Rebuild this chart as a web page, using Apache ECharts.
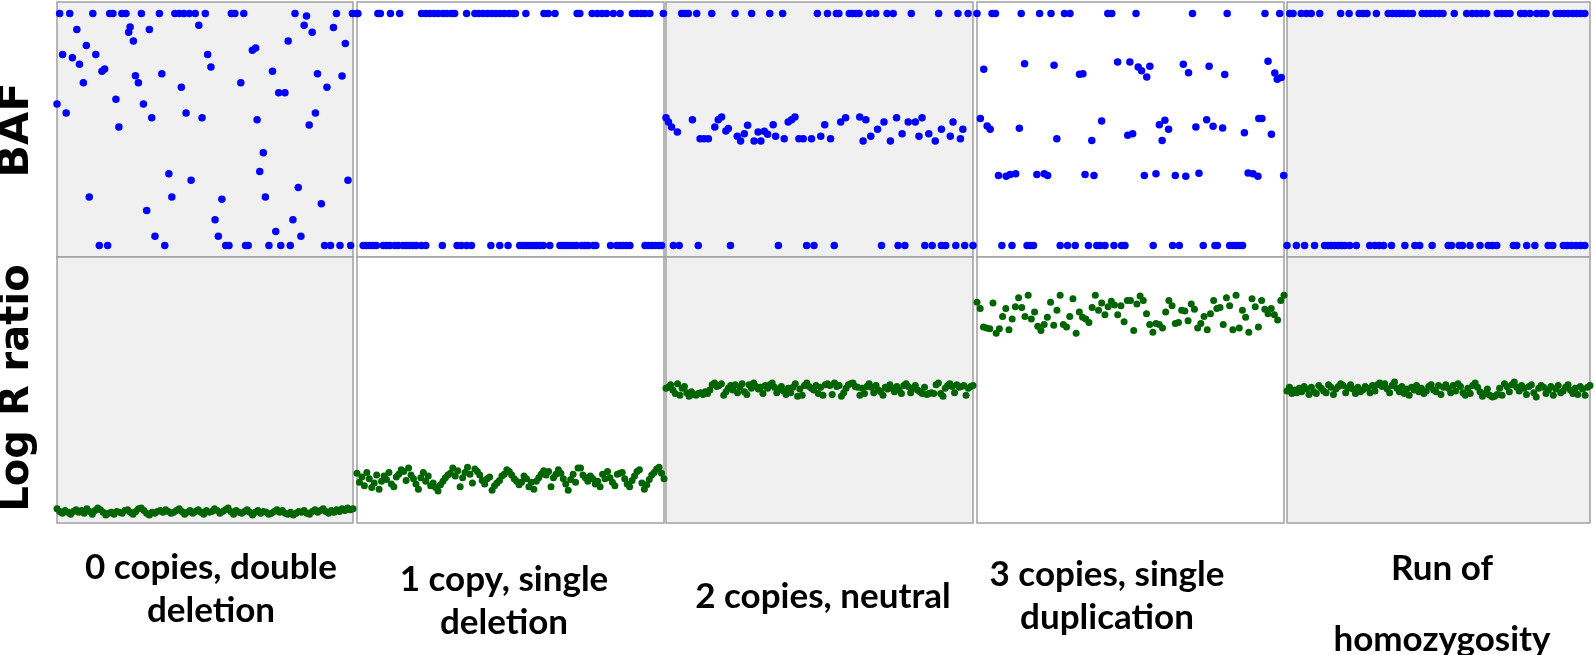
<!DOCTYPE html>
<html>
<head>
<meta charset="utf-8">
<script src="https://cdn.jsdelivr.net/npm/echarts/dist/echarts.min.js"></script>
<style>html,body{margin:0;padding:0;background:#fff}#main{width:1595px;height:655px}</style>
</head>
<body>
<div id="main"></div>
<script>
var chartDom = document.getElementById('main');
var myChart = echarts.init(chartDom);
var option;

//---------------- data ----------------
var panelNames = ['0 copies, double\ndeletion', '1 copy, single\ndeletion', '2 copies, neutral', '3 copies, single\nduplication', 'Run of\nhomozygosity'];
var rowNames = ['BAF', 'Log R ratio'];

// BAF: x position (0-100 across the panel) of the dots lying on 1 and on 0
var baf1Top = [0.9, 4.3, 12.1, 17.8, 18.9, 21.9, 23.3, 28.5, 34.6, 39.8, 41.3, 42.9, 44.7, 46.7, 50.1, 58.9, 60.1, 63.1, 80.4, 94.4, 99.8];
var baf1Bot = [14.3, 17.1, 36.4, 57.0, 58.1, 63.7, 64.6, 71.6, 75.6, 78.8, 90.4, 92.4, 95.6, 99.2];
var baf1Mid = [[84.3, 0.99], [6.7, 0.931], [24.7, 0.942], [24.2, 0.919], [31.2, 0.931], [47.9, 0.95], [83.5, 0.95], [86.2, 0.919], [93.4, 0.94],
  [9.9, 0.862], [25.8, 0.882], [66.0, 0.842], [67.1, 0.852], [78.1, 0.882], [97.4, 0.871], [1.9, 0.823], [5.2, 0.81], [13.1, 0.823], [50.9, 0.823],
  [7.6, 0.781], [52.0, 0.77], [15.2, 0.751], [16.1, 0.761], [26.5, 0.732], [35.4, 0.741], [72.8, 0.751], [88.0, 0.741], [96.3, 0.731],
  [8.9, 0.702], [27.5, 0.702], [42.0, 0.682], [62.1, 0.702], [91.2, 0.682], [74.9, 0.659], [77.0, 0.659], [0, 0.61], [19.9, 0.63], [29.2, 0.61],
  [3.1, 0.571], [43.6, 0.571], [32.0, 0.551], [49.0, 0.551], [67.6, 0.542], [87.3, 0.571], [85.2, 0.519], [20.9, 0.511], [69.7, 0.40], [68.5, 0.319],
  [37.8, 0.309], [45.3, 0.281], [98.3, 0.281], [81.5, 0.25], [10.9, 0.209], [38.8, 0.209], [70.4, 0.209], [55.7, 0.199], [89.3, 0.18], [30.3, 0.151],
  [53.4, 0.111], [79.7, 0.111], [73.9, 0.06], [33.1, 0.04], [54.5, 0.04], [82.4, 0.04]];

var baf2Top = [0, 0.3, 6.8, 7.6, 10.9, 13.9, 21.0, 22.4, 23.7, 25.1, 26.5, 28.0, 29.3, 30.8, 31.8, 35.7, 38.4, 39.7, 41.1, 42.5, 43.9, 45.2, 46.6, 48.0,
  49.5, 50.9, 51.6, 55.0, 60.9, 62.3, 64.5, 71.7, 72.6, 76.6, 78.3, 79.8, 81.3, 83.5, 85.7, 89.7, 91.1, 92.5, 93.8, 95.4, 99.8];
var baf2Bot = [2.0, 3.0, 4.1, 5.2, 6.3, 8.5, 9.6, 10.7, 12.3, 13.4, 15.0, 16.1, 17.2, 18.3, 19.3, 21.0, 22.4, 27.8, 32.6, 34.0, 35.7, 37.3, 43.6, 46.5,
  49.2, 53.0, 54.1, 55.2, 56.3, 57.4, 58.5, 59.6, 60.7, 62.8, 66.1, 67.2, 68.3, 69.3, 70.4, 71.5, 73.2, 74.2, 75.3, 77.0, 77.8, 82.6, 84.6, 85.7,
  86.7, 87.8, 88.9, 93.8, 94.9, 96.0, 97.1, 98.2, 99.2];
var baf2Mid = [];

var baf3Top = [5.1, 6.2, 7.3, 10.0, 14.9, 22.5, 27.9, 33.8, 38.0, 49.3, 52.6, 55.5, 56.3, 59.7, 60.7, 61.8, 62.9, 66.2, 68.3, 72.0, 74.0, 79.9, 88.8, 95.1, 98.4];
var baf3Bot = [2.4, 4.3, 10.5, 21.0, 36.6, 45.8, 48.2, 54.8, 70.2, 75.6, 77.8, 84.3, 86.7, 89.7, 91.1, 94.4, 97.3, 100];
var baf3Mid = [[0, 0.551], [0.8, 0.532], [1.8, 0.511], [3.7, 0.489], [8.6, 0.542], [11.1, 0.46], [12.4, 0.46], [13.8, 0.46], [15.9, 0.511], [17.0, 0.542],
  [18.1, 0.554], [19.5, 0.494], [20.3, 0.504], [23.2, 0.471], [24.3, 0.45], [25.5, 0.482], [26.6, 0.518], [28.7, 0.45], [30.0, 0.489], [30.9, 0.45],
  [32.0, 0.492], [33.1, 0.479], [34.9, 0.521], [35.7, 0.471], [38.5, 0.46], [39.8, 0.532], [40.9, 0.542], [42.0, 0.554], [43.3, 0.46], [44.7, 0.46],
  [47.4, 0.46], [50.4, 0.471], [51.7, 0.521], [53.6, 0.46], [56.9, 0.532], [58.5, 0.551], [63.1, 0.554], [65.1, 0.542], [64.2, 0.45], [66.7, 0.471],
  [68.9, 0.501], [71.0, 0.532], [73.1, 0.45], [75.1, 0.551], [76.9, 0.482], [78.9, 0.532], [81.2, 0.532], [83.4, 0.551], [82.4, 0.471], [85.6, 0.482],
  [87.7, 0.45], [89.7, 0.501], [92.6, 0.471], [93.5, 0.532], [95.9, 0.46], [96.7, 0.501]];

var baf4Top = [0, 4.9, 6.0, 14.4, 20.4, 24.1, 28.5, 30.3, 42.6, 43.9, 51.8, 70.2, 81.5, 93.8, 98.6];
var baf4Bot = [8.1, 11.4, 16.3, 17.3, 18.4, 27.1, 29.5, 32.0, 36.3, 39.0, 40.1, 41.7, 44.6, 47.1, 48.2, 57.4, 63.7, 65.9, 73.7, 77.5, 78.3, 82.3,
  83.4, 84.5, 85.6, 86.5];
var baf4Mid = [[2.2, 0.76], [15.5, 0.784], [25.1, 0.777], [33.4, 0.738], [34.5, 0.741], [45.8, 0.791], [49.8, 0.791], [52.5, 0.77], [53.6, 0.753],
  [55.3, 0.727], [56.3, 0.773], [67.2, 0.781], [68.9, 0.745], [75.6, 0.773], [80.7, 0.737], [94.8, 0.794], [97.0, 0.744], [97.8, 0.717], [99.1, 0.724],
  [1.1, 0.547], [3.3, 0.515], [4.3, 0.501], [13.8, 0.505], [26.0, 0.46], [37.4, 0.453], [40.6, 0.537], [49.1, 0.475], [50.7, 0.482], [59.4, 0.521],
  [61.2, 0.54], [62.4, 0.501], [60.3, 0.453], [71.3, 0.511], [74.8, 0.542], [76.9, 0.514], [80.0, 0.506], [87.1, 0.486], [91.8, 0.547], [92.8, 0.547],
  [95.9, 0.479], [7.0, 0.302], [9.5, 0.298], [10.8, 0.306], [12.6, 0.309], [19.5, 0.306], [21.9, 0.309], [23.0, 0.302], [35.2, 0.306], [38.1, 0.302],
  [54.5, 0.302], [58.3, 0.309], [64.6, 0.302], [68.0, 0.298], [72.3, 0.311], [88.3, 0.312], [89.9, 0.309], [91.5, 0.298], [99.9, 0.302]];

var baf5Top = [0.9, 2.0, 4.7, 6.4, 8.0, 10.8, 17.7, 20.5, 23.8, 25.1, 26.4, 29.5, 33.4, 34.8, 36.1, 37.2, 38.5, 40.0, 41.4, 44.6, 46.0, 47.4, 48.8,
  50.2, 51.5, 55.2, 59.3, 61.1, 62.6, 64.2, 65.9, 69.4, 70.8, 72.2, 73.6, 77.1, 78.5, 80.2, 82.4, 84.0, 85.5, 88.8, 90.1, 91.4, 92.8, 94.3, 95.6,
  96.9, 98.3];
var baf5Bot = [0, 3.1, 5.8, 9.1, 12.4, 13.5, 14.6, 15.7, 16.9, 18.0, 19.1, 20.7, 22.9, 27.3, 29.0, 30.4, 31.9, 34.5, 38.9, 42.2, 43.8, 47.9, 53.2,
  54.3, 56.8, 57.9, 60.4, 63.7, 66.4, 67.8, 69.2, 74.7, 75.8, 79.1, 81.8, 86.2, 87.7, 91.2, 92.5, 93.9, 95.4, 96.9, 98.3];
var baf5Mid = [];

// Log R ratio, one value per probe, in probe order
var lrr1 = [-1.34, -1.37, -1.39, -1.36, -1.38, -1.40, -1.37, -1.35, -1.38, -1.36, -1.39, -1.34, -1.37, -1.40, -1.36, -1.33, -1.35, -1.38, -1.41, -1.39,
  -1.38, -1.40, -1.37, -1.38, -1.39, -1.36, -1.35, -1.38, -1.40, -1.37, -1.34, -1.33, -1.36, -1.39, -1.41, -1.38, -1.39, -1.37, -1.36, -1.38,
  -1.35, -1.37, -1.39, -1.38, -1.36, -1.34, -1.37, -1.40, -1.38, -1.36, -1.39, -1.37, -1.35, -1.38, -1.40, -1.36, -1.38, -1.37, -1.34, -1.36,
  -1.39, -1.37, -1.35, -1.33, -1.37, -1.40, -1.36, -1.38, -1.39, -1.37, -1.35, -1.38, -1.41, -1.38, -1.36, -1.39, -1.37, -1.38, -1.40, -1.39,
  -1.37, -1.35, -1.38, -1.36, -1.39, -1.40, -1.38, -1.41, -1.39, -1.37, -1.38, -1.36, -1.39, -1.40, -1.37, -1.35, -1.38, -1.36, -1.34, -1.37,
  -1.39, -1.36, -1.38, -1.35, -1.37, -1.34, -1.36, -1.33, -1.35, -1.34];
var lrr2 = [-0.94, -1.04, -0.98, -1.08, -0.93, -1.00, -1.10, -1.05, -0.96, -1.12, -1.03, -0.97, -1.01, -0.93, -1.06, -1.09, -0.98, -0.95, -0.90, -0.92,
  -1.02, -0.88, -0.96, -1.00, -1.06, -1.12, -0.99, -0.93, -1.03, -0.97, -1.08, -1.05, -1.10, -1.14, -1.07, -1.03, -0.99, -0.96, -0.94, -0.88,
  -0.97, -0.91, -1.09, -0.99, -0.93, -0.87, -0.95, -1.05, -0.89, -0.92, -0.96, -1.02, -1.06, -1.00, -0.98, -1.13, -1.08, -1.05, -1.02, -0.97,
  -0.95, -0.90, -0.92, -0.96, -1.00, -1.03, -1.07, -1.04, -0.97, -1.00, -1.09, -1.04, -1.12, -1.03, -0.99, -0.95, -0.91, -0.96, -0.92, -1.09,
  -0.99, -0.95, -0.90, -0.94, -1.00, -1.06, -1.13, -1.01, -0.95, -1.04, -0.88, -0.88, -0.96, -0.99, -1.03, -0.97, -1.00, -1.06, -1.03, -1.09,
  -0.95, -1.00, -0.92, -0.99, -1.04, -1.08, -0.95, -0.94, -0.93, -1.00, -1.06, -1.09, -1.02, -0.97, -0.92, -0.90, -1.05, -1.12, -1.07, -1.01,
  -0.96, -0.93, -0.89, -0.87, -0.94, -1.00];
var lrr3 = [0.02, 0.03, 0.06, 0.00, -0.04, 0.07, -0.06, 0.02, 0.04, -0.03, -0.07, -0.02, -0.05, -0.06, -0.04, -0.03, -0.05, -0.02, -0.04, 0.00,
  0.06, 0.08, 0.04, 0.05, 0.07, -0.06, -0.02, 0.02, 0.05, 0.00, 0.06, -0.03, 0.03, 0.07, -0.02, -0.05, 0.06, 0.02, 0.08, 0.04, 0.01, 0.03, -0.04,
  0.05, 0.02, 0.06, 0.08, 0.03, -0.03, 0.00, 0.04, -0.01, -0.05, 0.02, -0.03, 0.03, 0.07, -0.07, 0.01, -0.06, 0.05, 0.08, 0.04, 0.02, 0.00, 0.05,
  -0.04, 0.03, -0.06, 0.06, 0.07, 0.05, -0.05, 0.08, 0.04, 0.05, -0.07, -0.03, 0.02, 0.06, 0.07, 0.08, 0.04, 0.03, -0.06, 0.02, -0.04, 0.04, 0.07,
  0.03, -0.03, 0.05, 0.00, -0.02, -0.06, 0.03, 0.01, 0.06, 0.02, -0.02, 0.04, 0.00, -0.04, 0.05, 0.07, 0.04, -0.03, 0.02, 0.05, 0.00, -0.02, -0.04,
  0.03, -0.05, -0.04, -0.03, -0.04, 0.06, 0.08, -0.04, -0.07, 0.02, 0.05, 0.07, 0.04, -0.03, 0.06, 0.03, 0.04, 0.05, -0.06, 0.02, 0.04, 0.05];
var lrr4 = [0.99, 0.92, 0.71, 0.70, 0.69, 0.98, 0.64, 0.69, 0.83, 0.92, 0.68, 0.80, 0.94, 1.04, 0.93, 0.83, 1.07, 0.80, 0.88, 0.72, 0.67, 0.74,
  0.82, 0.99, 0.73, 0.90, 1.07, 0.74, 0.71, 0.83, 1.03, 0.64, 0.88, 0.82, 0.80, 0.76, 0.93, 1.07, 0.90, 0.98, 0.85, 0.94, 1.00, 0.96, 0.85, 0.95,
  0.77, 1.01, 1.01, 0.67, 0.97, 1.06, 1.01, 0.86, 0.74, 0.65, 0.75, 0.74, 0.70, 0.88, 1.01, 0.95, 0.75, 0.76, 0.90, 0.89, 0.78, 0.97, 0.91, 0.70,
  0.75, 0.83, 0.68, 0.86, 1.01, 0.92, 0.93, 0.74, 1.04, 0.95, 0.68, 1.07, 0.70, 0.90, 0.82, 0.65, 1.03, 0.94, 0.71, 1.01, 0.91, 0.86, 0.92, 0.85,
  0.79, 1.01, 1.07];
var lrr5 = [-0.01, 0.03, -0.04, 0.00, -0.03, 0.02, -0.02, 0.04, 0.01, -0.05, 0.03, -0.02, -0.04, 0.05, 0.02, -0.01, -0.03, 0.06, 0.03, -0.05, 0.01,
  0.04, 0.07, 0.05, -0.03, 0.02, 0.06, 0.01, -0.04, 0.03, -0.02, 0.00, 0.04, 0.02, -0.03, 0.05, -0.01, 0.06, 0.08, 0.04, 0.07, 0.01, -0.03, 0.05,
  0.09, 0.02, -0.02, 0.04, -0.04, 0.01, -0.06, 0.03, 0.00, 0.05, -0.02, 0.02, -0.04, -0.01, 0.04, 0.06, 0.00, -0.02, 0.05, -0.05, 0.03, 0.06, 0.02,
  -0.03, 0.05, -0.01, 0.07, 0.04, -0.03, -0.06, 0.02, -0.04, 0.05, 0.08, 0.03, -0.02, -0.07, -0.04, 0.01, -0.06, -0.08, -0.07, -0.05, 0.02, -0.06,
  0.07, 0.04, -0.02, 0.06, 0.09, 0.03, -0.01, 0.05, 0.02, -0.05, 0.04, 0.06, -0.03, -0.08, 0.02, 0.05, 0.03, -0.04, 0.00, 0.04, -0.06, 0.01, 0.05,
  -0.03, -0.01, 0.03, 0.06, 0.00, -0.04, 0.02, -0.05, 0.04, 0.01, -0.06, 0.03, 0.05];
//--------------------------------------

var bafTop = [baf1Top, baf2Top, baf3Top, baf4Top, baf5Top];
var bafBot = [baf1Bot, baf2Bot, baf3Bot, baf4Bot, baf5Bot];
var bafMid = [baf1Mid, baf2Mid, baf3Mid, baf4Mid, baf5Mid];
var lrr = [lrr1, lrr2, lrr3, lrr4, lrr5];

var gridLeft = [57, 357, 666, 977, 1287];
var gridWidth = [296, 307, 307, 307, 303];
var shaded = [true, false, true, false, true];
var labelX = [206, 499, 818, 1102, 1437];
var labelTop = [541, 553, 570, 548, 528];
var labelLine = [43, 43, 43, 43, 71];

var grids = [], xAxes = [], yAxes = [], series = [], titles = [];
for (var i = 0; i < 5; i++) {
    var bg = shaded[i] ? '#f0f0f0' : '#ffffff';
    grids.push({ left: gridLeft[i], width: gridWidth[i], top: 2, height: 255, show: true, backgroundColor: bg, borderColor: '#a0a0a0', borderWidth: 1.5 });
    grids.push({ left: gridLeft[i], width: gridWidth[i], top: 257, height: 266, show: true, backgroundColor: bg, borderColor: '#a0a0a0', borderWidth: 1.5 });

    xAxes.push({ gridIndex: 2 * i, type: 'value', min: 0, max: 100, show: false });
    yAxes.push({ gridIndex: 2 * i, type: 'value', min: -0.05, max: 1.05, show: false });
    xAxes.push({ gridIndex: 2 * i + 1, type: 'value', min: 0, max: lrr[i].length - 1, show: false });
    yAxes.push({ gridIndex: 2 * i + 1, type: 'value', min: -1.5, max: 1.5, show: false });

    var bafData = [];
    bafTop[i].forEach(function (x) { bafData.push([x, 1]); });
    bafBot[i].forEach(function (x) { bafData.push([x, 0]); });
    bafMid[i].forEach(function (p) { bafData.push(p); });
    var lrrData = lrr[i].map(function (v, k) { return [k, v]; });

    series.push({ type: 'scatter', xAxisIndex: 2 * i, yAxisIndex: 2 * i, data: bafData, symbolSize: 7.5, clip: false,
        itemStyle: { color: '#0000ff', opacity: 1 } });
    series.push({ type: 'scatter', xAxisIndex: 2 * i + 1, yAxisIndex: 2 * i + 1, data: lrrData, symbolSize: 7, clip: false,
        itemStyle: { color: '#006400', opacity: 1 } });

    titles.push({ text: panelNames[i], left: labelX[i], top: labelTop[i], textAlign: 'center',
        textStyle: { fontFamily: 'Lato', fontWeight: 'bold', fontSize: 35, color: '#000', lineHeight: labelLine[i] } });
}

option = {
    animation: false,
    title: titles,
    grid: grids,
    xAxis: xAxes,
    yAxis: yAxes,
    series: series,
    graphic: [
        { type: 'text', x: 17, y: 130, rotation: Math.PI / 2,
          style: { text: rowNames[0], font: 'bold 43px "DejaVu Sans"', fill: '#000', align: 'center', verticalAlign: 'middle', textAlign: 'center', textVerticalAlign: 'middle' } },
        { type: 'text', x: 18, y: 388, rotation: Math.PI / 2,
          style: { text: rowNames[1], font: 'bold 40px "DejaVu Sans"', fill: '#000', align: 'center', verticalAlign: 'middle', textAlign: 'center', textVerticalAlign: 'middle' } }
    ]
};
option && myChart.setOption(option);
</script>
</body>
</html>
